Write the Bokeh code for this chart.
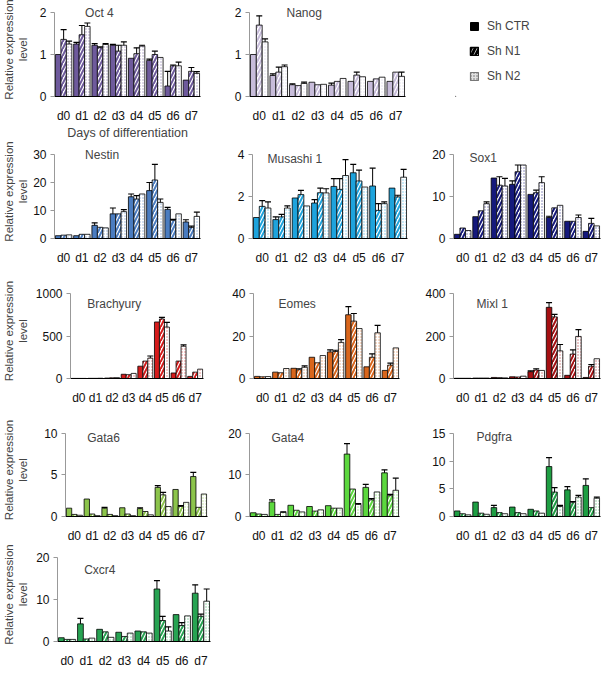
import math
from bokeh.plotting import figure
from bokeh.models import (ColumnDataSource, FactorRange, Range1d, FixedTicker,
                          Label, Legend, LegendItem)
from bokeh.transform import dodge
from bokeh.layouts import column, row
from bokeh.embed import file_html
from bokeh.resources import INLINE

# ---------------- data ----------------
days = ["d0", "d1", "d2", "d3", "d4", "d5", "d6", "d7"]
series = ["Sh CTR", "Sh N1", "Sh N2"]

oct4_ctr = [1.0, 1.25, 1.22, 1.22, 0.91, 0.86, 0.25, 0.39]
oct4_ctr_err = [0, 0.04, 0.04, 0.02, 0, 0.03, 0.35, 0]
oct4_n1 = [1.36, 1.47, 1.16, 1.08, 1.02, 1.0, 0.73, 0.6]
oct4_n1_err = [0.23, 0.22, 0.02, 0.14, 0.14, 0.08, 0.02, 0.09]
oct4_n2 = [1.25, 1.67, 1.24, 1.22, 1.2, 0.93, 0.73, 0.55]
oct4_n2_err = [0.07, 0.08, 0.02, 0.08, 0.02, 0, 0.09, 0.04]

nanog_ctr = [1.0, 0.5, 0.28, 0.34, 0.27, 0.36, 0.36, 0.36]
nanog_ctr_err = [0, 0.04, 0.02, 0, 0.05, 0, 0, 0]
nanog_n1 = [1.7, 0.58, 0.26, 0.28, 0.36, 0.51, 0.42, 0.58]
nanog_n1_err = [0.22, 0.12, 0, 0, 0, 0.07, 0, 0]
nanog_n2 = [1.3, 0.71, 0.31, 0.29, 0.43, 0.47, 0.46, 0.48]
nanog_n2_err = [0.07, 0.04, 0.03, 0, 0, 0, 0, 0.1]

nestin_ctr = [1.0, 1.0, 4.7, 8.8, 14.9, 17.1, 10.4, 5.9]
nestin_ctr_err = [0, 0, 0.9, 2.1, 1.0, 2.9, 0.7, 0.8]
nestin_n1 = [1.2, 1.5, 4.0, 8.8, 14.1, 20.9, 6.5, 3.9]
nestin_n1_err = [0, 0, 0, 0, 1.2, 5.6, 0.3, 0.5]
nestin_n2 = [1.3, 1.5, 3.8, 9.6, 15.9, 12.9, 8.8, 7.9]
nestin_n2_err = [0, 0, 0, 0.7, 0, 1.2, 0, 1.5]

musashi_ctr = [1.0, 0.9, 1.93, 1.69, 2.48, 3.13, 2.5, 2.4]
musashi_ctr_err = [0, 0.13, 0, 0.16, 0.37, 0.4, 0.85, 0]
musashi_n1 = [1.53, 1.03, 2.09, 2.18, 2.34, 2.74, 1.34, 1.98]
musashi_n1_err = [0.27, 0.12, 0.2, 0.22, 0.51, 0.52, 0.32, 0.08]
musashi_n2 = [1.45, 1.45, 1.55, 2.17, 3.0, 2.45, 1.66, 2.92]
musashi_n2_err = [0.29, 0.1, 0, 0.2, 0.76, 0, 0.08, 0.37]

sox1_ctr = [1.0, 5.2, 14.4, 12.9, 10.5, 5.0, 4.1, 1.7]
sox1_ctr_err = [0, 0, 0, 0.8, 0, 0.3, 0, 0]
sox1_n1 = [2.5, 6.6, 12.7, 15.9, 10.9, 7.3, 4.1, 3.6]
sox1_n1_err = [0, 0, 2.0, 1.6, 0.6, 0, 0, 1.2]
sox1_n2 = [1.9, 8.3, 12.5, 17.5, 13.3, 7.9, 5.0, 3.0]
sox1_n2_err = [0, 0.4, 1.8, 0, 1.4, 0, 0.6, 0]

brachyury_ctr = [1, 2, 5, 50, 145, 665, 65, 25]
brachyury_ctr_err = [0, 0, 0, 0, 0, 0, 0, 0]
brachyury_n1 = [1, 2, 8, 45, 205, 700, 205, 75]
brachyury_n1_err = [0, 0, 0, 0, 0, 20, 0, 0]
brachyury_n2 = [1, 3, 10, 60, 240, 605, 380, 110]
brachyury_n2_err = [0, 0, 0, 0, 25, 55, 15, 0]

eomes_ctr = [1.0, 3.0, 4.8, 10.0, 12.5, 30.0, 5.5, 3.8]
eomes_ctr_err = [0, 0, 0, 0, 1.0, 3.8, 0, 0]
eomes_n1 = [0.8, 2.7, 4.1, 7.4, 12.7, 27.0, 10.0, 6.3]
eomes_n1_err = [0, 0, 0.5, 0, 0.6, 3.6, 1.6, 0.9]
eomes_n2 = [0.9, 4.7, 5.3, 10.8, 17.0, 23.5, 21.5, 14.4]
eomes_n2_err = [0, 0, 0.6, 0, 1.3, 0, 3.5, 0]

mixl1_ctr = [1, 2, 5, 8, 32, 335, 15, 5]
mixl1_ctr_err = [0, 0, 0, 0, 4, 22, 0, 0]
mixl1_n1 = [1, 2, 4, 7, 40, 290, 115, 58]
mixl1_n1_err = [0, 0, 0, 0, 6, 12, 20, 8]
mixl1_n2 = [1, 2, 3, 11, 38, 130, 198, 93]
mixl1_n2_err = [0, 0, 0, 0, 0, 30, 32, 0]

gata6_ctr = [1.0, 2.1, 1.0, 1.05, 0.95, 3.5, 3.25, 4.8]
gata6_ctr_err = [0, 0, 0.1, 0, 0.1, 0.2, 0, 0.5]
gata6_n1 = [0.25, 0.3, 0.25, 0.3, 0.6, 2.6, 1.2, 1.1]
gata6_n1_err = [0, 0, 0, 0, 0, 0.3, 0.1, 0]
gata6_n2 = [0.15, 0.1, 0.1, 0.1, 0.2, 1.2, 1.7, 2.7]
gata6_n2_err = [0, 0, 0, 0, 0, 0, 0, 0]

gata4_ctr = [0.9, 3.5, 2.7, 2.4, 2.6, 15.0, 7.0, 10.5]
gata4_ctr_err = [0, 0.5, 0, 0, 0, 2.5, 0.7, 0.7]
gata4_n1 = [0.6, 0.5, 1.5, 1.3, 2.0, 6.6, 4.0, 5.0]
gata4_n1_err = [0, 0, 0, 0, 0, 0, 0.3, 0.3]
gata4_n2 = [0.5, 1.0, 1.1, 1.6, 2.0, 2.9, 5.9, 6.3]
gata4_n2_err = [0, 0.1, 0, 0, 0, 0.2, 0, 2.9]

pdgfra_ctr = [1.0, 2.6, 1.6, 1.7, 1.3, 9.0, 4.8, 5.6]
pdgfra_ctr_err = [0, 0, 0.4, 0, 0, 1.6, 0.6, 1.2]
pdgfra_n1 = [0.5, 0.6, 0.7, 0.7, 1.0, 4.4, 2.5, 1.6]
pdgfra_n1_err = [0, 0, 0, 0, 0, 0.8, 0.2, 0]
pdgfra_n2 = [0.3, 0.4, 0.5, 0.5, 0.6, 1.8, 3.5, 3.3]
pdgfra_n2_err = [0, 0, 0, 0, 0, 0.2, 0.3, 0.2]

cxcr4_ctr = [0.9, 4.2, 2.9, 2.2, 2.5, 12.5, 6.4, 11.5]
cxcr4_ctr_err = [0, 1.3, 0, 0, 0, 2.0, 0, 2.0]
cxcr4_n1 = [0.5, 0.6, 2.3, 1.2, 2.3, 5.0, 3.8, 6.0]
cxcr4_n1_err = [0, 0, 0, 0, 0, 1.0, 0.7, 0.5]
cxcr4_n2 = [0.5, 0.8, 1.0, 2.0, 2.0, 2.5, 6.1, 9.6]
cxcr4_n2_err = [0, 0, 0, 0, 0, 1.0, 0, 2.9]

FONT = "Liberation Sans"
YLABEL = "Relative expression\nlevel"
HEAD = 10  # px of head-room above the top tick (keeps the gene name unclipped)


def panel(title, ymax, yticks, vals, color, width, height, left, right, top,
          bottom, tdx, tdy, ylab_standoff=None, xlabel=None):
    ctr, ctr_e, n1, n1_e, n2, n2_e = vals
    fw = width - left - right
    fh = height - top - bottom
    ah = fh - HEAD
    yend = ymax * fh / ah
    p = figure(x_range=FactorRange(*days, range_padding=0),
               y_range=Range1d(0, yend), width=width, height=height,
               output_backend="svg", toolbar_location=None, tools="",
               min_border_left=left, min_border_right=right,
               min_border_top=top, min_border_bottom=bottom)
    p.grid.visible = False
    p.outline_line_color = None

    src = ColumnDataSource(dict(day=days, ctr=ctr, n1=n1, n2=n2))
    bw = 0.3
    p.vbar(x=dodge("day", -0.3, range=p.x_range), top="ctr", width=bw, source=src,
           fill_color=color, line_color="black", line_width=0.8)
    p.vbar(x=dodge("day", 0.0, range=p.x_range), top="n1", width=bw, source=src,
           fill_color="white", hatch_pattern="/", hatch_color=color,
           hatch_weight=2, hatch_scale=7, line_color="black", line_width=0.8)
    p.vbar(x=dodge("day", 0.3, range=p.x_range), top="n2", width=bw, source=src,
           fill_color="white", hatch_pattern=".", hatch_color=color,
           hatch_alpha=0.6, hatch_scale=3, line_color="black", line_width=0.8)

    for off, v, e in ((-0.3, ctr, ctr_e), (0.0, n1, n1_e), (0.3, n2, n2_e)):
        d = [dd for dd, ee in zip(days, e) if ee > 0]
        lo = [vv for vv, ee in zip(v, e) if ee > 0]
        hi = [vv + ee for vv, ee in zip(v, e) if ee > 0]
        es = ColumnDataSource(dict(day=d, lo=lo, hi=hi))
        x = dodge("day", off, range=p.x_range)
        p.segment(x0=x, y0="lo", x1=x, y1="hi", source=es,
                  line_color="black", line_width=1)
        p.scatter(x=x, y="hi", marker="dash", size=6, source=es,
                  line_color="black", line_width=1.2)

    # axes
    p.yaxis.ticker = FixedTicker(ticks=yticks)
    p.yaxis.bounds = (0, ymax)
    p.yaxis.minor_tick_line_color = None
    p.yaxis.axis_line_color = "#999999"
    p.yaxis.major_tick_line_color = "#999999"
    p.yaxis.major_tick_out = 4
    p.yaxis.major_tick_in = 0
    p.yaxis.major_label_standoff = 4
    p.yaxis.major_label_text_font = FONT
    p.yaxis.major_label_text_font_size = "12px"
    p.yaxis.major_label_text_color = "#111111"

    p.xaxis.axis_line_color = "black"
    p.xaxis.axis_line_width = 1.2
    p.xaxis.major_tick_line_color = None
    p.xaxis.major_tick_out = 0
    p.xaxis.major_tick_in = 0
    p.xaxis.major_label_standoff = 12
    p.xaxis.major_label_text_font = FONT
    p.xaxis.major_label_text_font_size = "12px"
    p.xaxis.major_label_text_color = "#111111"
    if xlabel:
        p.xaxis.axis_label = xlabel
        p.xaxis.axis_label_text_font = FONT
        p.xaxis.axis_label_text_font_size = "12.5px"
        p.xaxis.axis_label_text_font_style = "normal"
        p.xaxis.axis_label_standoff = 0

    # gene name inside the plot
    p.add_layout(Label(x=tdx / fw * 8, y=ymax * (1 - tdy / ah), text=title,
                       text_font=FONT, text_font_size="12px",
                       text_align="left", text_baseline="middle"))
    if ylab_standoff is not None:
        p.yaxis.axis_label = YLABEL
        p.yaxis.axis_label_text_font = FONT
        p.yaxis.axis_label_text_font_size = "11.5px"
        p.yaxis.axis_label_text_font_style = "normal"
        p.yaxis.axis_label_text_line_height = 1.15
        p.yaxis.axis_label_standoff = ylab_standoff
    return p


C = dict(oct4="#6e5a9c", nanog="#c7bcda", nestin="#4a7cc0", musashi="#1ea3dc",
         sox1="#15197c", brachyury="#d61c1c", eomes="#d9661c", mixl1="#a50f12",
         gata6="#8cc44b", gata4="#5cd83e", pdgfra="#1e9e43", cxcr4="#27a352")

# row 1
oct4 = panel("Oct 4", 2, [0, 1, 2],
             (oct4_ctr, oct4_ctr_err, oct4_n1, oct4_n1_err, oct4_n2, oct4_n2_err),
             C["oct4"], 215, 142, 52, 15, 2, 46, 31, 0, ylab_standoff=8,
             xlabel="Days of differentiation")
nanog = panel("Nanog", 2, [0, 1, 2],
              (nanog_ctr, nanog_ctr_err, nanog_n1, nanog_n1_err, nanog_n2, nanog_n2_err),
              C["nanog"], 205, 142, 34, 15, 2, 46, 37, 0)

# legend panel: same top/bottom borders as its row neighbours
lp = figure(width=185, height=142, x_range=Range1d(0, 1), y_range=Range1d(0, 1),
            output_backend="svg", toolbar_location=None, tools="",
            x_axis_location=None, y_axis_location=None,
            min_border_left=35, min_border_right=5, min_border_top=2,
            min_border_bottom=46)
lp.grid.visible = False
lp.outline_line_color = None
offscreen = ColumnDataSource(dict(x=[-10.0], top=[-10.0]))
r1 = lp.vbar(x="x", top="top", width=0.1, source=offscreen, fill_color="black",
             line_color="black")
r2 = lp.vbar(x="x", top="top", width=0.1, source=offscreen, fill_color="white",
             hatch_pattern="/", hatch_color="black", hatch_weight=3,
             hatch_scale=8, line_color="black", line_width=1.5)
r3 = lp.vbar(x="x", top="top", width=0.1, source=offscreen, fill_color="#e2e2e2",
             hatch_pattern=".", hatch_color="#666666", hatch_scale=3,
             line_color="#777777", line_width=1.2)
legend = Legend(items=[LegendItem(label=s, renderers=[r]) for s, r in
                       zip(series, (r1, r2, r3))],
                location="top_left", margin=8, padding=6, spacing=5,
                glyph_width=10, glyph_height=10, label_height=20,
                label_standoff=8, label_text_font=FONT,
                label_text_font_size="12px", border_line_alpha=0,
                background_fill_alpha=0)
lp.add_layout(legend)

# row 2
nestin = panel("Nestin", 30, [0, 10, 20, 30],
               (nestin_ctr, nestin_ctr_err, nestin_n1, nestin_n1_err, nestin_n2, nestin_n2_err),
               C["nestin"], 215, 136, 52, 15, 2, 40, 31, 0, ylab_standoff=1)
musashi = panel("Musashi 1", 4, [0, 2, 4],
                (musashi_ctr, musashi_ctr_err, musashi_n1, musashi_n1_err, musashi_n2, musashi_n2_err),
                C["musashi"], 205, 136, 37, 13, 2, 40, 15, 4)
sox1 = panel("Sox1", 20, [0, 10, 20],
             (sox1_ctr, sox1_ctr_err, sox1_n1, sox1_n1_err, sox1_n2, sox1_n2_err),
             C["sox1"], 185, 136, 33, 5, 2, 40, 16, 3)

# row 3
brachyury = panel("Brachyury", 1000, [0, 500, 1000],
                  (brachyury_ctr, brachyury_ctr_err, brachyury_n1, brachyury_n1_err,
                   brachyury_n2, brachyury_n2_err),
                  C["brachyury"], 215, 140, 68, 12, 5, 40, 17, 10, ylab_standoff=4)
eomes = panel("Eomes", 40, [0, 20, 40],
              (eomes_ctr, eomes_ctr_err, eomes_n1, eomes_n1_err, eomes_n2, eomes_n2_err),
              C["eomes"], 205, 140, 38, 21, 5, 40, 25, 10)
mixl1 = panel("Mixl 1", 400, [0, 200, 400],
              (mixl1_ctr, mixl1_ctr_err, mixl1_n1, mixl1_n1_err, mixl1_n2, mixl1_n2_err),
              C["mixl1"], 185, 140, 33, 5, 5, 40, 23, 10)

# row 4
gata6 = panel("Gata6", 10, [0, 5, 10],
              (gata6_ctr, gata6_ctr_err, gata6_n1, gata6_n1_err, gata6_n2, gata6_n2_err),
              C["gata6"], 215, 127, 63, 8, 5, 27, 22, 5, ylab_standoff=12)
gata4 = panel("Gata4", 20, [0, 10, 20],
              (gata4_ctr, gata4_ctr_err, gata4_n1, gata4_n1_err, gata4_n2, gata4_n2_err),
              C["gata4"], 205, 127, 34, 21, 5, 27, 22, 5)
pdgfra = panel("Pdgfra", 15, [0, 5, 10, 15],
               (pdgfra_ctr, pdgfra_ctr_err, pdgfra_n1, pdgfra_n1_err, pdgfra_n2, pdgfra_n2_err),
               C["pdgfra"], 185, 127, 33, 5, 5, 27, 23, 4)

# row 5
cxcr4 = panel("Cxcr4", 20, [0, 10, 20],
              (cxcr4_ctr, cxcr4_ctr_err, cxcr4_n1, cxcr4_n1_err, cxcr4_n2, cxcr4_n2_err),
              C["cxcr4"], 215, 130, 55, 5, 2, 34, 27, 12, ylab_standoff=4)

layout = column(row(oct4, nanog, lp), row(nestin, musashi, sox1),
                row(brachyury, eomes, mixl1), row(gata6, gata4, pdgfra),
                row(cxcr4))

open("out.html", "w").write(file_html(layout, INLINE))
